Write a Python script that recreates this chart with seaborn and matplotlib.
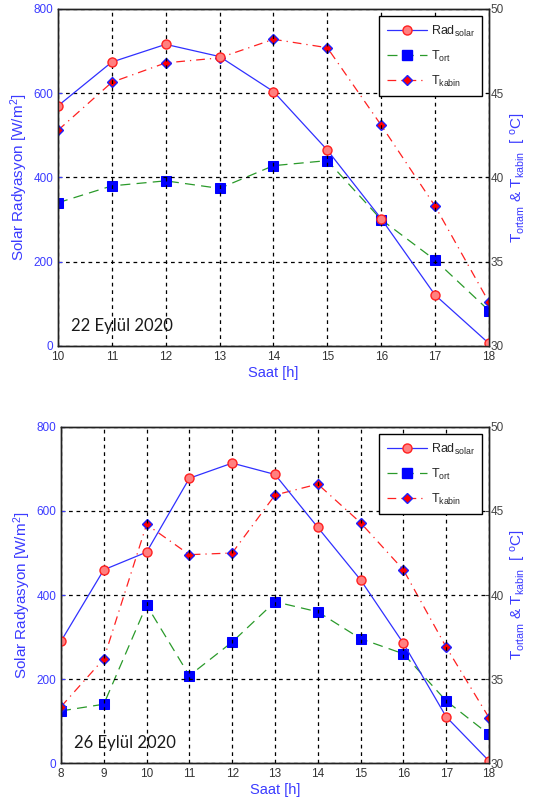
import numpy as np
import pandas as pd
import matplotlib
matplotlib.use("Agg")
import matplotlib.pyplot as plt
from matplotlib.lines import Line2D
import seaborn as sns

# --- 22 Eylül 2020 ---
saat_1 = [10, 11, 12, 13, 14, 15, 16, 17, 18]
rad_1 = [570, 674, 716, 687, 604, 465, 302, 121, 6]
tort_1 = [38.5, 39.5, 39.8, 39.35, 40.7, 41.0, 37.5, 35.1, 32.1]
tkabin_1 = [42.8, 45.65, 46.8, 47.1, 48.2, 47.7, 43.1, 38.3, 32.6]

# --- 26 Eylül 2020 ---
saat_2 = [8, 9, 10, 11, 12, 13, 14, 15, 16, 17, 18]
rad_2 = [290, 460, 502, 678, 714, 687, 561, 436, 285, 110, 5]
tort_2 = [33.1, 33.5, 39.4, 35.2, 37.2, 39.6, 39.0, 37.4, 36.5, 33.7, 31.7]
tkabin_2 = [33.35, 36.2, 44.2, 42.4, 42.5, 45.95, 46.6, 44.3, 41.5, 36.9, 32.7]

etiketler = ["Rad$_{solar}$", "T$_{ort}$", "T$_{kabin}$"]
tarihler = ["22 Eylül 2020", "26 Eylül 2020"]

sns.set_style("white")
plt.rcParams['font.family'] = ['Liberation Sans', 'DejaVu Sans']
plt.rcParams['mathtext.default'] = 'regular'

MAVI = "#3b3bff"
fig = plt.figure(figsize=(5.34, 8.07), dpi=100)
ax_top = fig.add_axes([0.1086, 0.5713, 0.807, 0.4176])
ax_bot = fig.add_axes([0.1142, 0.0545, 0.8015, 0.4164])

rad_style = dict(color="#3030ff", lw=0.9, linestyle="-", marker="o", markersize=6.5,
                 markerfacecolor="#ff8080", markeredgecolor="#ff2020", markeredgewidth=1.0)
tort_style = dict(color="#2a9a2a", lw=0.9, dashes=(8, 5), marker="s", markersize=7,
                  markerfacecolor="#0000ff", markeredgecolor="#0000ff")
tkabin_style = dict(color="#ff2020", lw=0.9, dashes=(7, 4, 1, 4), marker="D", markersize=5.5,
                    markerfacecolor="#ff0000", markeredgecolor="#2020ff", markeredgewidth=1.0)


def ciz(ax, saat, rad, tort, tkabin, tarih):
    ax2 = ax.twinx()
    df = pd.DataFrame({"saat": saat, "rad": rad, "tort": tort, "tkabin": tkabin})
    sns.lineplot(data=df, x="saat", y="rad", ax=ax, **rad_style)
    sns.lineplot(data=df, x="saat", y="tort", ax=ax2, **tort_style)
    sns.lineplot(data=df, x="saat", y="tkabin", ax=ax2, **tkabin_style)

    ax.set_xlim(saat[0], saat[-1])
    ax.set_ylim(0, 800)
    ax.set_yticks([0, 200, 400, 600, 800])
    ax.set_xticks(saat)
    ax2.set_ylim(30, 50)
    ax2.set_yticks([30, 35, 40, 45, 50])

    ax.grid(True, color="black", linestyle=(0, (3, 3)), lw=0.9)
    ax.set_axisbelow(True)
    ax2.grid(False)
    ax.set_zorder(ax2.get_zorder() + 1)
    ax.patch.set_visible(False)

    for a in (ax, ax2):
        for s in a.spines.values():
            s.set_color("#222222")
            s.set_linewidth(1.0)
    ax.tick_params(axis="y", colors=MAVI, labelsize=8.5, direction="in", length=3)
    ax.tick_params(axis="x", colors="#333333", labelsize=8.5, direction="in", length=3)
    ax2.tick_params(axis="y", colors="#444444", labelsize=8.5, direction="in", length=3, pad=1)

    ax.set_xlabel("Saat [h]", color=MAVI, fontsize=10.5, labelpad=2)
    ax.set_ylabel("Solar Radyasyon [W/m$^2$]", color=MAVI, fontsize=11, labelpad=2)
    ax2.set_ylabel("T$_{ortam}$ & T$_{kabin}$  [ $^o$C]", color=MAVI, fontsize=11, labelpad=4)

    ax.text(0.03, 0.035, tarih, transform=ax.transAxes, fontsize=12,
            color="#1a1a1a", family=["Lato", "DejaVu Sans"], ha="left", va="bottom")

    handles = [Line2D([], [], **rad_style), Line2D([], [], **tort_style),
               Line2D([], [], **tkabin_style)]
    leg = ax.legend(handles, etiketler, loc="upper right", bbox_to_anchor=(0.984, 0.979),
                    borderaxespad=0, fontsize=9, frameon=True, fancybox=False,
                    handlelength=3.2, borderpad=0.6, labelspacing=0.8, handletextpad=0.3)
    leg.get_frame().set_edgecolor("black")
    leg.get_frame().set_linewidth(1.0)
    leg.get_frame().set_alpha(1)


ciz(ax_top, saat_1, rad_1, tort_1, tkabin_1, tarihler[0])
ciz(ax_bot, saat_2, rad_2, tort_2, tkabin_2, tarihler[1])

fig.savefig("out.png", dpi=100)
